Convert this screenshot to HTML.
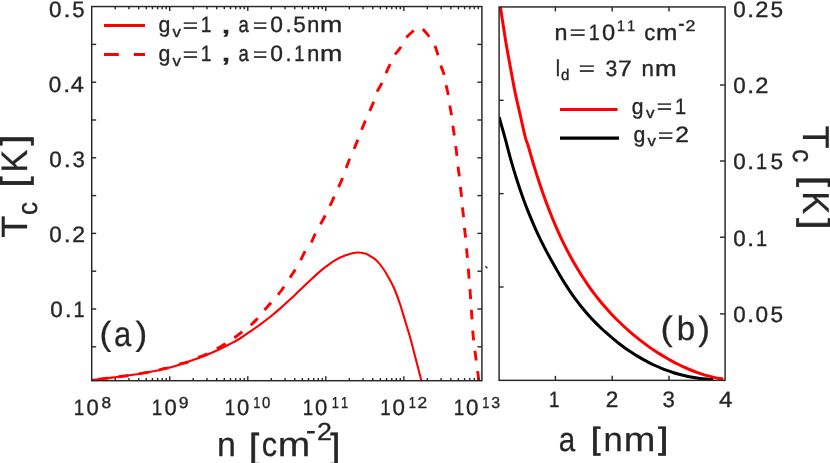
<!DOCTYPE html>
<html><head><meta charset="utf-8"><title>Tc plots</title>
<style>
html,body{margin:0;padding:0;background:#fff;}
body{width:830px;height:463px;overflow:hidden;font-family:"Liberation Sans",sans-serif;}
svg{display:block;}
svg text{font-family:"Liberation Sans",sans-serif;font-kerning:none;white-space:pre;text-rendering:geometricPrecision;}
</style></head><body>
<svg width="830" height="463" viewBox="0 0 830 463">
<rect x="0" y="0" width="830" height="463" fill="#ffffff"/>
<clipPath id="cl"><rect x="91.7" y="6.55" width="390.2" height="374.84999999999997"/></clipPath>
<clipPath id="cr"><rect x="499.1" y="6.95" width="226.0" height="374.1"/></clipPath>
<g clip-path="url(#cl)" fill="none" stroke="#ff0000" stroke-width="2.1" stroke-linejoin="round">
<path d="M91.50,380.10 C93.75,379.83 101.08,378.98 105.00,378.50 C108.92,378.02 111.67,377.62 115.00,377.20 C118.33,376.78 121.67,376.45 125.00,376.00 C128.33,375.55 131.67,375.03 135.00,374.50 C138.33,373.97 141.67,373.38 145.00,372.80 C148.33,372.22 151.67,371.72 155.00,371.00 C158.33,370.28 162.50,369.08 165.00,368.50 C167.50,367.92 167.50,368.17 170.00,367.50 C172.50,366.83 176.67,365.58 180.00,364.50 C183.33,363.42 186.67,362.17 190.00,361.00 C193.33,359.83 196.67,358.75 200.00,357.50 C203.33,356.25 206.67,354.92 210.00,353.50 C213.33,352.08 216.67,350.58 220.00,349.00 C223.33,347.42 226.67,345.75 230.00,344.00 C233.33,342.25 236.67,340.57 240.00,338.50 C243.33,336.43 246.67,333.92 250.00,331.60 C253.33,329.28 256.67,327.03 260.00,324.60 C263.33,322.17 266.67,319.67 270.00,317.00 C273.33,314.33 276.67,311.50 280.00,308.60 C283.33,305.70 286.67,302.70 290.00,299.60 C293.33,296.50 296.67,293.17 300.00,290.00 C303.33,286.83 306.67,283.70 310.00,280.60 C313.33,277.50 317.33,273.73 320.00,271.40 C322.67,269.07 323.50,268.43 326.00,266.60 C328.50,264.77 331.83,262.23 335.00,260.40 C338.17,258.57 341.63,256.88 345.00,255.60 C348.37,254.32 351.88,253.07 355.20,252.70 C358.52,252.33 362.43,252.85 364.90,253.40 C367.37,253.95 368.15,254.90 370.00,256.00 C371.85,257.10 374.00,258.17 376.00,260.00 C378.00,261.83 380.00,264.27 382.00,267.00 C384.00,269.73 386.00,272.90 388.00,276.40 C390.00,279.90 392.00,283.40 394.00,288.00 C396.00,292.60 398.17,298.58 400.00,304.00 C401.83,309.42 403.33,315.00 405.00,320.50 C406.67,326.00 408.33,331.08 410.00,337.00 C411.67,342.92 413.07,348.58 415.00,356.00 C416.93,363.42 420.50,377.25 421.60,381.50"/>
<path d="M418.70,27.60 C418.25,27.78 416.95,28.10 416.00,28.70 C415.05,29.30 414.67,29.65 413.00,31.20 C411.33,32.75 408.08,35.28 406.00,38.00 C403.92,40.72 402.37,44.67 400.50,47.50 C398.63,50.33 396.55,52.18 394.80,55.00 C393.05,57.82 391.53,61.23 390.00,64.40 C388.47,67.57 387.00,70.80 385.60,74.00 C384.20,77.20 383.03,80.60 381.60,83.60 C380.17,86.60 378.33,88.93 377.00,92.00 C375.67,95.07 374.83,98.83 373.60,102.00 C372.37,105.17 370.97,107.90 369.60,111.00 C368.23,114.10 366.77,117.37 365.40,120.60 C364.03,123.83 362.70,127.10 361.40,130.40 C360.10,133.70 358.83,137.30 357.60,140.40 C356.37,143.50 355.33,145.90 354.00,149.00 C352.67,152.10 350.93,155.77 349.60,159.00 C348.27,162.23 347.20,165.17 346.00,168.40 C344.80,171.63 343.63,175.30 342.40,178.40 C341.17,181.50 341.33,181.07 338.60,187.00 C335.87,192.93 329.83,206.33 326.00,214.00 C322.17,221.67 318.10,228.17 315.60,233.00 C313.10,237.83 312.77,239.90 311.00,243.00 C309.23,246.10 306.77,248.67 305.00,251.60 C303.23,254.53 302.07,257.53 300.40,260.60 C298.73,263.67 296.73,267.17 295.00,270.00 C293.27,272.83 292.33,274.10 290.00,277.60 C287.67,281.10 284.00,287.00 281.00,291.00 C278.00,295.00 274.77,298.43 272.00,301.60 C269.23,304.77 266.73,307.30 264.40,310.00 C262.07,312.70 260.23,315.30 258.00,317.80 C255.77,320.30 253.60,322.70 251.00,325.00 C248.40,327.30 245.23,329.43 242.40,331.60 C239.57,333.77 236.73,336.00 234.00,338.00 C231.27,340.00 228.83,341.87 226.00,343.60 C223.17,345.33 220.00,346.73 217.00,348.40 C214.00,350.07 211.00,352.13 208.00,353.60 C205.00,355.07 202.17,355.87 199.00,357.20 C195.83,358.53 192.25,360.43 189.00,361.60 C185.75,362.77 182.67,363.22 179.50,364.20 C176.33,365.18 172.42,366.78 170.00,367.50 C167.58,368.22 167.50,367.92 165.00,368.50 C162.50,369.08 158.33,370.28 155.00,371.00 C151.67,371.72 148.33,372.22 145.00,372.80 C141.67,373.38 138.33,373.97 135.00,374.50 C131.67,375.03 128.33,375.55 125.00,376.00 C121.67,376.45 118.33,376.78 115.00,377.20 C111.67,377.62 108.92,378.02 105.00,378.50 C101.08,378.98 93.75,379.83 91.50,380.10" stroke-width="2.9" stroke-dasharray="9.9 10.7" stroke-dashoffset="14.6"/>
<path d="M418.70,27.60 C419.08,27.67 420.28,27.73 421.00,28.00 C421.72,28.27 421.58,27.70 423.00,29.20 C424.42,30.70 427.50,34.17 429.50,37.00 C431.50,39.83 433.58,43.17 435.00,46.20 C436.42,49.23 437.00,51.90 438.00,55.20 C439.00,58.50 439.93,62.60 441.00,66.00 C442.07,69.40 443.53,72.33 444.40,75.60 C445.27,78.87 445.53,82.27 446.20,85.60 C446.87,88.93 447.80,92.27 448.40,95.60 C449.00,98.93 449.27,102.27 449.80,105.60 C450.33,108.93 451.08,112.20 451.60,115.60 C452.12,119.00 452.43,122.60 452.90,126.00 C453.37,129.40 453.93,132.67 454.40,136.00 C454.87,139.33 455.27,142.60 455.70,146.00 C456.13,149.40 456.60,152.90 457.00,156.40 C457.40,159.90 457.70,163.57 458.10,167.00 C458.50,170.43 459.02,173.67 459.40,177.00 C459.78,180.33 460.03,183.67 460.40,187.00 C460.77,190.33 461.25,193.57 461.60,197.00 C461.95,200.43 462.17,204.17 462.50,207.60 C462.83,211.03 463.27,214.20 463.60,217.60 C463.93,221.00 464.17,224.60 464.50,228.00 C464.83,231.40 465.27,234.67 465.60,238.00 C465.93,241.33 466.17,244.33 466.50,248.00 C466.83,251.67 467.22,255.50 467.60,260.00 C467.98,264.50 468.40,270.00 468.80,275.00 C469.20,280.00 469.57,284.17 470.00,290.00 C470.43,295.83 470.87,302.33 471.40,310.00 C471.93,317.67 472.50,328.33 473.20,336.00 C473.90,343.67 474.80,349.67 475.60,356.00 C476.40,362.33 477.43,369.67 478.00,374.00 C478.57,378.33 478.83,380.67 479.00,382.00" stroke-width="2.9" stroke-dasharray="9.9 10.65" stroke-dashoffset="15.9"/>
</g>
<g clip-path="url(#cr)" fill="none" stroke-width="3" stroke-linejoin="round">
<path d="M499.20,117.50 C499.25,117.67 498.53,115.11 499.50,118.50 C500.47,121.89 503.08,130.89 505.00,137.87 C506.92,144.85 509.00,153.29 511.00,160.36 C513.00,167.43 515.00,174.03 517.00,180.29 C519.00,186.55 521.00,192.38 523.00,197.95 C525.00,203.51 527.00,208.71 529.00,213.68 C531.00,218.65 533.00,223.31 535.00,227.79 C537.00,232.27 539.00,236.50 541.00,240.59 C543.00,244.68 545.00,248.56 547.00,252.34 C549.00,256.12 551.00,259.73 553.00,263.29 C555.00,266.85 557.00,270.29 559.00,273.68 C561.00,277.07 563.00,280.46 565.00,283.65 C567.00,286.83 569.00,289.88 571.00,292.79 C573.00,295.70 575.00,298.46 577.00,301.12 C579.00,303.78 581.00,306.30 583.00,308.73 C585.00,311.16 587.00,313.47 589.00,315.69 C591.00,317.91 593.00,320.03 595.00,322.08 C597.00,324.13 599.00,326.09 601.00,327.99 C603.00,329.89 605.00,331.72 607.00,333.49 C609.00,335.26 611.00,336.98 613.00,338.64 C615.00,340.30 617.00,341.89 619.00,343.44 C621.00,344.99 623.00,346.47 625.00,347.91 C627.00,349.35 629.00,350.73 631.00,352.06 C633.00,353.39 635.00,354.66 637.00,355.88 C639.00,357.10 641.00,358.27 643.00,359.39 C645.00,360.51 647.00,361.57 649.00,362.59 C651.00,363.61 653.00,364.57 655.00,365.49 C657.00,366.41 659.00,367.28 661.00,368.10 C663.00,368.92 665.00,369.69 667.00,370.42 C669.00,371.15 671.00,371.83 673.00,372.47 C675.00,373.11 677.00,373.69 679.00,374.24 C681.00,374.79 683.00,375.29 685.00,375.75 C687.00,376.21 689.00,376.63 691.00,377.01 C693.00,377.39 695.00,377.72 697.00,378.01 C699.00,378.30 701.00,378.56 703.00,378.77 C705.00,378.98 707.30,379.17 709.00,379.29 C710.70,379.41 712.50,379.47 713.20,379.50" stroke="#000"/>
<path d="M499.80,3.00 C499.90,3.67 499.80,3.08 500.40,7.00 C501.00,10.92 502.38,20.00 503.40,26.50 C504.42,33.00 505.28,38.92 506.50,46.00 C507.72,53.08 509.28,61.33 510.70,69.00 C512.12,76.67 513.42,84.33 515.00,92.00 C516.58,99.67 518.45,107.33 520.20,115.00 C521.95,122.67 524.20,132.95 525.50,138.00 C526.80,143.05 526.58,140.65 528.00,145.30 C529.42,149.95 532.00,159.34 534.00,165.90 C536.00,172.46 538.00,178.69 540.00,184.66 C542.00,190.63 544.00,196.30 546.00,201.73 C548.00,207.16 550.00,212.30 552.00,217.23 C554.00,222.16 556.00,226.83 558.00,231.31 C560.00,235.79 562.00,240.02 564.00,244.09 C566.00,248.16 568.00,252.01 570.00,255.72 C572.00,259.43 574.00,262.94 576.00,266.33 C578.00,269.72 580.00,272.94 582.00,276.06 C584.00,279.18 586.00,282.15 588.00,285.03 C590.00,287.91 592.00,290.66 594.00,293.32 C596.00,295.98 598.00,298.53 600.00,300.99 C602.00,303.45 604.00,305.80 606.00,308.08 C608.00,310.36 610.00,312.55 612.00,314.67 C614.00,316.79 616.00,318.82 618.00,320.79 C620.00,322.76 622.00,324.67 624.00,326.52 C626.00,328.37 628.00,330.15 630.00,331.89 C632.00,333.63 634.00,335.31 636.00,336.94 C638.00,338.57 640.00,340.14 642.00,341.67 C644.00,343.20 646.00,344.67 648.00,346.10 C650.00,347.53 652.00,348.90 654.00,350.24 C656.00,351.58 658.00,352.87 660.00,354.12 C662.00,355.37 664.00,356.58 666.00,357.75 C668.00,358.92 670.00,360.05 672.00,361.13 C674.00,362.21 676.00,363.26 678.00,364.26 C680.00,365.26 682.00,366.22 684.00,367.14 C686.00,368.06 688.00,368.93 690.00,369.75 C692.00,370.57 694.00,371.36 696.00,372.09 C698.00,372.82 700.00,373.51 702.00,374.15 C704.00,374.79 706.00,375.38 708.00,375.92 C710.00,376.46 712.00,376.95 714.00,377.39 C716.00,377.83 718.43,378.26 720.00,378.55 C721.57,378.84 722.83,379.01 723.40,379.10" stroke="#ff0000"/>
</g>
<g fill="none" stroke="#262626" stroke-width="1.45">
<rect x="91.7" y="6.55" width="390.20" height="374.15"/>
<rect x="499.1" y="6.95" width="226.00" height="373.40"/>
</g>
<g stroke="#262626" stroke-width="1.4">
<line x1="115.19" y1="380.70" x2="115.19" y2="378.00"/>
<line x1="115.19" y1="6.55" x2="115.19" y2="9.25"/>
<line x1="128.93" y1="380.70" x2="128.93" y2="378.00"/>
<line x1="128.93" y1="6.55" x2="128.93" y2="9.25"/>
<line x1="138.68" y1="380.70" x2="138.68" y2="378.00"/>
<line x1="138.68" y1="6.55" x2="138.68" y2="9.25"/>
<line x1="146.25" y1="380.70" x2="146.25" y2="378.00"/>
<line x1="146.25" y1="6.55" x2="146.25" y2="9.25"/>
<line x1="152.43" y1="380.70" x2="152.43" y2="378.00"/>
<line x1="152.43" y1="6.55" x2="152.43" y2="9.25"/>
<line x1="157.65" y1="380.70" x2="157.65" y2="378.00"/>
<line x1="157.65" y1="6.55" x2="157.65" y2="9.25"/>
<line x1="162.18" y1="380.70" x2="162.18" y2="378.00"/>
<line x1="162.18" y1="6.55" x2="162.18" y2="9.25"/>
<line x1="166.17" y1="380.70" x2="166.17" y2="378.00"/>
<line x1="166.17" y1="6.55" x2="166.17" y2="9.25"/>
<line x1="169.74" y1="380.70" x2="169.74" y2="376.20"/>
<line x1="169.74" y1="6.55" x2="169.74" y2="11.05"/>
<line x1="193.23" y1="380.70" x2="193.23" y2="378.00"/>
<line x1="193.23" y1="6.55" x2="193.23" y2="9.25"/>
<line x1="206.97" y1="380.70" x2="206.97" y2="378.00"/>
<line x1="206.97" y1="6.55" x2="206.97" y2="9.25"/>
<line x1="216.72" y1="380.70" x2="216.72" y2="378.00"/>
<line x1="216.72" y1="6.55" x2="216.72" y2="9.25"/>
<line x1="224.29" y1="380.70" x2="224.29" y2="378.00"/>
<line x1="224.29" y1="6.55" x2="224.29" y2="9.25"/>
<line x1="230.47" y1="380.70" x2="230.47" y2="378.00"/>
<line x1="230.47" y1="6.55" x2="230.47" y2="9.25"/>
<line x1="235.69" y1="380.70" x2="235.69" y2="378.00"/>
<line x1="235.69" y1="6.55" x2="235.69" y2="9.25"/>
<line x1="240.22" y1="380.70" x2="240.22" y2="378.00"/>
<line x1="240.22" y1="6.55" x2="240.22" y2="9.25"/>
<line x1="244.21" y1="380.70" x2="244.21" y2="378.00"/>
<line x1="244.21" y1="6.55" x2="244.21" y2="9.25"/>
<line x1="247.78" y1="380.70" x2="247.78" y2="376.20"/>
<line x1="247.78" y1="6.55" x2="247.78" y2="11.05"/>
<line x1="271.27" y1="380.70" x2="271.27" y2="378.00"/>
<line x1="271.27" y1="6.55" x2="271.27" y2="9.25"/>
<line x1="285.01" y1="380.70" x2="285.01" y2="378.00"/>
<line x1="285.01" y1="6.55" x2="285.01" y2="9.25"/>
<line x1="294.76" y1="380.70" x2="294.76" y2="378.00"/>
<line x1="294.76" y1="6.55" x2="294.76" y2="9.25"/>
<line x1="302.33" y1="380.70" x2="302.33" y2="378.00"/>
<line x1="302.33" y1="6.55" x2="302.33" y2="9.25"/>
<line x1="308.51" y1="380.70" x2="308.51" y2="378.00"/>
<line x1="308.51" y1="6.55" x2="308.51" y2="9.25"/>
<line x1="313.73" y1="380.70" x2="313.73" y2="378.00"/>
<line x1="313.73" y1="6.55" x2="313.73" y2="9.25"/>
<line x1="318.26" y1="380.70" x2="318.26" y2="378.00"/>
<line x1="318.26" y1="6.55" x2="318.26" y2="9.25"/>
<line x1="322.25" y1="380.70" x2="322.25" y2="378.00"/>
<line x1="322.25" y1="6.55" x2="322.25" y2="9.25"/>
<line x1="325.82" y1="380.70" x2="325.82" y2="376.20"/>
<line x1="325.82" y1="6.55" x2="325.82" y2="11.05"/>
<line x1="349.31" y1="380.70" x2="349.31" y2="378.00"/>
<line x1="349.31" y1="6.55" x2="349.31" y2="9.25"/>
<line x1="363.05" y1="380.70" x2="363.05" y2="378.00"/>
<line x1="363.05" y1="6.55" x2="363.05" y2="9.25"/>
<line x1="372.80" y1="380.70" x2="372.80" y2="378.00"/>
<line x1="372.80" y1="6.55" x2="372.80" y2="9.25"/>
<line x1="380.37" y1="380.70" x2="380.37" y2="378.00"/>
<line x1="380.37" y1="6.55" x2="380.37" y2="9.25"/>
<line x1="386.55" y1="380.70" x2="386.55" y2="378.00"/>
<line x1="386.55" y1="6.55" x2="386.55" y2="9.25"/>
<line x1="391.77" y1="380.70" x2="391.77" y2="378.00"/>
<line x1="391.77" y1="6.55" x2="391.77" y2="9.25"/>
<line x1="396.30" y1="380.70" x2="396.30" y2="378.00"/>
<line x1="396.30" y1="6.55" x2="396.30" y2="9.25"/>
<line x1="400.29" y1="380.70" x2="400.29" y2="378.00"/>
<line x1="400.29" y1="6.55" x2="400.29" y2="9.25"/>
<line x1="403.86" y1="380.70" x2="403.86" y2="376.20"/>
<line x1="403.86" y1="6.55" x2="403.86" y2="11.05"/>
<line x1="427.35" y1="380.70" x2="427.35" y2="378.00"/>
<line x1="427.35" y1="6.55" x2="427.35" y2="9.25"/>
<line x1="441.09" y1="380.70" x2="441.09" y2="378.00"/>
<line x1="441.09" y1="6.55" x2="441.09" y2="9.25"/>
<line x1="450.84" y1="380.70" x2="450.84" y2="378.00"/>
<line x1="450.84" y1="6.55" x2="450.84" y2="9.25"/>
<line x1="458.41" y1="380.70" x2="458.41" y2="378.00"/>
<line x1="458.41" y1="6.55" x2="458.41" y2="9.25"/>
<line x1="464.59" y1="380.70" x2="464.59" y2="378.00"/>
<line x1="464.59" y1="6.55" x2="464.59" y2="9.25"/>
<line x1="469.81" y1="380.70" x2="469.81" y2="378.00"/>
<line x1="469.81" y1="6.55" x2="469.81" y2="9.25"/>
<line x1="474.34" y1="380.70" x2="474.34" y2="378.00"/>
<line x1="474.34" y1="6.55" x2="474.34" y2="9.25"/>
<line x1="478.33" y1="380.70" x2="478.33" y2="378.00"/>
<line x1="478.33" y1="6.55" x2="478.33" y2="9.25"/>
<line x1="91.70" y1="346.80" x2="96.20" y2="346.80"/>
<line x1="481.90" y1="346.80" x2="477.40" y2="346.80"/>
<line x1="91.70" y1="309.00" x2="96.20" y2="309.00"/>
<line x1="481.90" y1="309.00" x2="477.40" y2="309.00"/>
<line x1="91.70" y1="271.20" x2="96.20" y2="271.20"/>
<line x1="481.90" y1="271.20" x2="477.40" y2="271.20"/>
<line x1="91.70" y1="233.40" x2="96.20" y2="233.40"/>
<line x1="481.90" y1="233.40" x2="477.40" y2="233.40"/>
<line x1="91.70" y1="195.60" x2="96.20" y2="195.60"/>
<line x1="481.90" y1="195.60" x2="477.40" y2="195.60"/>
<line x1="91.70" y1="157.80" x2="96.20" y2="157.80"/>
<line x1="481.90" y1="157.80" x2="477.40" y2="157.80"/>
<line x1="91.70" y1="120.00" x2="96.20" y2="120.00"/>
<line x1="481.90" y1="120.00" x2="477.40" y2="120.00"/>
<line x1="91.70" y1="82.20" x2="96.20" y2="82.20"/>
<line x1="481.90" y1="82.20" x2="477.40" y2="82.20"/>
<line x1="91.70" y1="44.40" x2="96.20" y2="44.40"/>
<line x1="481.90" y1="44.40" x2="477.40" y2="44.40"/>
<line x1="555.40" y1="380.35" x2="555.40" y2="375.85"/>
<line x1="555.40" y1="6.95" x2="555.40" y2="11.45"/>
<line x1="612.20" y1="380.35" x2="612.20" y2="375.85"/>
<line x1="612.20" y1="6.95" x2="612.20" y2="11.45"/>
<line x1="669.00" y1="380.35" x2="669.00" y2="375.85"/>
<line x1="669.00" y1="6.95" x2="669.00" y2="11.45"/>
<line x1="725.10" y1="85.00" x2="720.00" y2="85.00"/>
<line x1="725.10" y1="161.00" x2="720.00" y2="161.00"/>
<line x1="725.10" y1="237.20" x2="720.00" y2="237.20"/>
<line x1="725.10" y1="313.90" x2="720.00" y2="313.90"/>
<line x1="499.10" y1="100.30" x2="503.60" y2="100.30"/>
<line x1="499.10" y1="193.65" x2="503.60" y2="193.65"/>
<line x1="499.10" y1="287.00" x2="503.60" y2="287.00"/>
</g>
<line x1="485.4" y1="266.3" x2="487.4" y2="268.2" stroke="#262626" stroke-width="1.4"/>
<line x1="104" y1="25.5" x2="145" y2="25.5" stroke="#ff0000" stroke-width="3"/>
<path d="M104,54.5H118.8M133.8,54.5H145" stroke="#ff0000" stroke-width="3" fill="none"/>
<line x1="560" y1="109.5" x2="617.6" y2="109.5" stroke="#ff0000" stroke-width="3"/>
<line x1="560" y1="138.1" x2="619" y2="138.1" stroke="#000" stroke-width="3.2"/>
<g opacity="0.999">
<text transform="matrix(1.0038 0 0 1 49.08 16.85)" font-size="22.30" fill="#262626" stroke="#262626" stroke-width="0.36">0</text>
<text transform="matrix(1.1303 0 0 1 63.55 16.85)" font-size="22.30" fill="#262626" stroke="#262626" stroke-width="0.36">.</text>
<text transform="matrix(0.9931 0 0 1 72.36 16.85)" font-size="22.30" fill="#262626" stroke="#262626" stroke-width="0.36">5</text>
<text transform="matrix(1.0038 0 0 1 48.78 91.90)" font-size="22.30" fill="#262626" stroke="#262626" stroke-width="0.36">0</text>
<text transform="matrix(1.1303 0 0 1 63.25 91.90)" font-size="22.30" fill="#262626" stroke="#262626" stroke-width="0.36">.</text>
<text transform="matrix(1.0590 0 0 1 70.81 91.90)" font-size="22.30" fill="#262626" stroke="#262626" stroke-width="0.36">4</text>
<text transform="matrix(1.0038 0 0 1 49.28 166.95)" font-size="22.30" fill="#262626" stroke="#262626" stroke-width="0.36">0</text>
<text transform="matrix(1.1303 0 0 1 63.75 166.95)" font-size="22.30" fill="#262626" stroke="#262626" stroke-width="0.36">.</text>
<text transform="matrix(0.9931 0 0 1 72.61 166.95)" font-size="22.30" fill="#262626" stroke="#262626" stroke-width="0.36">3</text>
<text transform="matrix(1.0038 0 0 1 49.28 241.95)" font-size="22.30" fill="#262626" stroke="#262626" stroke-width="0.36">0</text>
<text transform="matrix(1.1303 0 0 1 63.75 241.95)" font-size="22.30" fill="#262626" stroke="#262626" stroke-width="0.36">.</text>
<text transform="matrix(1.0336 0 0 1 72.29 241.95)" font-size="22.30" fill="#262626" stroke="#262626" stroke-width="0.36">2</text>
<text transform="matrix(1.0038 0 0 1 50.28 316.90)" font-size="22.30" fill="#262626" stroke="#262626" stroke-width="0.36">0</text>
<text transform="matrix(1.1303 0 0 1 64.75 316.90)" font-size="22.30" fill="#262626" stroke="#262626" stroke-width="0.36">.</text>
<text transform="matrix(0.8945 0 0 1 73.53 316.90)" font-size="22.30" fill="#262626" stroke="#262626" stroke-width="0.36">1</text>
<text transform="matrix(0.8425 0 0 1 73.82 414.75)" font-size="22.30" fill="#262626" stroke="#262626" stroke-width="0.36">1</text>
<text transform="matrix(0.9850 0 0 1 86.39 414.75)" font-size="22.30" fill="#262626" stroke="#262626" stroke-width="0.36">0</text>
<text transform="matrix(1.0883 0 0 1 101.50 408.35)" font-size="15.86" fill="#262626" stroke="#262626" stroke-width="0.36">8</text>
<text transform="matrix(0.8425 0 0 1 151.82 414.75)" font-size="22.30" fill="#262626" stroke="#262626" stroke-width="0.36">1</text>
<text transform="matrix(0.9850 0 0 1 164.39 414.75)" font-size="22.30" fill="#262626" stroke="#262626" stroke-width="0.36">0</text>
<text transform="matrix(1.1055 0 0 1 178.83 408.35)" font-size="15.86" fill="#262626" stroke="#262626" stroke-width="0.36">9</text>
<text transform="matrix(0.8425 0 0 1 224.82 414.75)" font-size="22.30" fill="#262626" stroke="#262626" stroke-width="0.36">1</text>
<text transform="matrix(0.9850 0 0 1 236.99 414.75)" font-size="22.30" fill="#262626" stroke="#262626" stroke-width="0.36">0</text>
<text transform="matrix(0.8042 0 0 1 253.28 408.35)" font-size="15.86" fill="#262626" stroke="#262626" stroke-width="0.36">1</text>
<text transform="matrix(0.9364 0 0 1 262.07 408.35)" font-size="15.86" fill="#262626" stroke="#262626" stroke-width="0.36">0</text>
<text transform="matrix(0.8425 0 0 1 302.82 414.75)" font-size="22.30" fill="#262626" stroke="#262626" stroke-width="0.36">1</text>
<text transform="matrix(0.9850 0 0 1 314.99 414.75)" font-size="22.30" fill="#262626" stroke="#262626" stroke-width="0.36">0</text>
<text transform="matrix(0.8042 0 0 1 331.68 408.35)" font-size="15.86" fill="#262626" stroke="#262626" stroke-width="0.36">1</text>
<text transform="matrix(0.8042 0 0 1 341.08 408.35)" font-size="15.86" fill="#262626" stroke="#262626" stroke-width="0.36">1</text>
<text transform="matrix(0.8425 0 0 1 380.22 414.75)" font-size="22.30" fill="#262626" stroke="#262626" stroke-width="0.36">1</text>
<text transform="matrix(1.0038 0 0 1 392.38 414.75)" font-size="22.30" fill="#262626" stroke="#262626" stroke-width="0.36">0</text>
<text transform="matrix(0.8042 0 0 1 408.68 408.35)" font-size="15.86" fill="#262626" stroke="#262626" stroke-width="0.36">1</text>
<text transform="matrix(1.0932 0 0 1 417.38 408.35)" font-size="15.86" fill="#262626" stroke="#262626" stroke-width="0.36">2</text>
<text transform="matrix(0.8425 0 0 1 453.82 414.75)" font-size="22.30" fill="#262626" stroke="#262626" stroke-width="0.36">1</text>
<text transform="matrix(1.0038 0 0 1 465.98 414.75)" font-size="22.30" fill="#262626" stroke="#262626" stroke-width="0.36">0</text>
<text transform="matrix(0.8042 0 0 1 482.28 408.35)" font-size="15.86" fill="#262626" stroke="#262626" stroke-width="0.36">1</text>
<text transform="matrix(0.9973 0 0 1 491.25 408.35)" font-size="15.86" fill="#262626" stroke="#262626" stroke-width="0.36">3</text>
<text transform="matrix(0.9977 0 0 1 216.94 456.20)" font-size="34.00" fill="#262626" stroke="#262626" stroke-width="0.25">n</text>
<text transform="matrix(0.9011 0 0 1 261.69 456.20)" font-size="34.00" fill="#262626" stroke="#262626" stroke-width="0.25">c</text>
<text transform="matrix(1.1464 0 0 1 277.71 456.20)" font-size="34.00" fill="#262626" stroke="#262626" stroke-width="0.25">m</text>
<text transform="matrix(1.0233 0 0 1 249.19 457.88)" font-size="34.72" fill="#262626" stroke="#262626" stroke-width="0.70">[</text>
<text transform="matrix(0.9943 0 0 1 330.55 457.88)" font-size="34.72" fill="#262626" stroke="#262626" stroke-width="0.70">]</text>
<text transform="matrix(1.0403 0 0 1 305.83 439.70)" font-size="29.57" fill="#262626" stroke="#262626" stroke-width="0.25">-</text>
<text transform="matrix(1.0871 0 0 1 317.00 439.85)" font-size="24.63" fill="#262626" stroke="#262626" stroke-width="0.36">2</text>
<text transform="matrix(0 -0.9939 1 0 26.80 237.72)" font-size="36.50" fill="#262626" stroke="#262626" stroke-width="0.25">T</text>
<text transform="matrix(0 -0.9387 1 0 37.13 215.02)" font-size="27.95" fill="#262626" stroke="#262626" stroke-width="0.36">c</text>
<text transform="matrix(0 -1.0985 1 0 25.91 187.50)" font-size="36.00" fill="#262626" stroke="#262626" stroke-width="0.70">[</text>
<text transform="matrix(0 -0.9273 1 0 26.80 172.41)" font-size="36.86" fill="#262626" stroke="#262626" stroke-width="0.25">K</text>
<text transform="matrix(0 -1.0566 1 0 25.91 145.58)" font-size="36.00" fill="#262626" stroke="#262626" stroke-width="0.70">]</text>
<text transform="matrix(0.9573 0 0 1 158.45 32.35)" font-size="22.30" fill="#262626" stroke="#262626" stroke-width="0.36">g</text>
<text transform="matrix(1.3372 0 0 1 182.77 31.88)" font-size="19.55" fill="#262626" stroke="#262626" stroke-width="0.36">=</text>
<text transform="matrix(0.8633 0 0 1 200.78 32.35)" font-size="22.30" fill="#262626" stroke="#262626" stroke-width="0.36">1</text>
<text transform="matrix(0.8293 0 0 1 238.46 32.35)" font-size="22.30" fill="#262626" stroke="#262626" stroke-width="0.36">a</text>
<text transform="matrix(1.2529 0 0 1 253.05 31.88)" font-size="19.55" fill="#262626" stroke="#262626" stroke-width="0.36">=</text>
<text transform="matrix(1.0225 0 0 1 270.16 32.35)" font-size="22.30" fill="#262626" stroke="#262626" stroke-width="0.36">0</text>
<text transform="matrix(0.9890 0 0 1 285.44 32.35)" font-size="22.30" fill="#262626" stroke="#262626" stroke-width="0.36">.</text>
<text transform="matrix(1.0120 0 0 1 293.35 32.35)" font-size="22.30" fill="#262626" stroke="#262626" stroke-width="0.36">5</text>
<text transform="matrix(0.9712 0 0 1 307.31 32.35)" font-size="22.30" fill="#262626" stroke="#262626" stroke-width="0.36">n</text>
<text transform="matrix(1.1968 0 0 1 319.98 32.35)" font-size="22.30" fill="#262626" stroke="#262626" stroke-width="0.36">m</text>
<text transform="matrix(1.0929 0 0 1 172.49 36.65)" font-size="15.40" fill="#262626" stroke="#262626" stroke-width="0.36">v</text>
<text transform="matrix(1.5476 0 0 1 220.04 32.51)" font-size="27.72" fill="#262626" stroke="#262626" stroke-width="0.36">,</text>
<text transform="matrix(0.9573 0 0 1 158.45 61.20)" font-size="22.30" fill="#262626" stroke="#262626" stroke-width="0.36">g</text>
<text transform="matrix(1.3372 0 0 1 182.77 60.73)" font-size="19.55" fill="#262626" stroke="#262626" stroke-width="0.36">=</text>
<text transform="matrix(0.8633 0 0 1 200.78 61.20)" font-size="22.30" fill="#262626" stroke="#262626" stroke-width="0.36">1</text>
<text transform="matrix(0.8293 0 0 1 238.46 61.20)" font-size="22.30" fill="#262626" stroke="#262626" stroke-width="0.36">a</text>
<text transform="matrix(1.2529 0 0 1 253.05 60.73)" font-size="19.55" fill="#262626" stroke="#262626" stroke-width="0.36">=</text>
<text transform="matrix(1.0225 0 0 1 270.16 61.20)" font-size="22.30" fill="#262626" stroke="#262626" stroke-width="0.36">0</text>
<text transform="matrix(0.9890 0 0 1 285.44 61.20)" font-size="22.30" fill="#262626" stroke="#262626" stroke-width="0.36">.</text>
<text transform="matrix(0.8217 0 0 1 294.35 61.20)" font-size="22.30" fill="#262626" stroke="#262626" stroke-width="0.36">1</text>
<text transform="matrix(0.9712 0 0 1 307.31 61.20)" font-size="22.30" fill="#262626" stroke="#262626" stroke-width="0.36">n</text>
<text transform="matrix(1.1968 0 0 1 319.98 61.20)" font-size="22.30" fill="#262626" stroke="#262626" stroke-width="0.36">m</text>
<text transform="matrix(1.0929 0 0 1 172.49 65.50)" font-size="15.40" fill="#262626" stroke="#262626" stroke-width="0.36">v</text>
<text transform="matrix(1.5476 0 0 1 220.04 61.36)" font-size="27.72" fill="#262626" stroke="#262626" stroke-width="0.36">,</text>
<text transform="matrix(1.0594 0 0 1 99.49 345.47)" font-size="33.50" fill="#262626" stroke="#262626" stroke-width="0.25">(</text>
<text transform="matrix(0.8833 0 0 1 113.88 345.96)" font-size="35.06" fill="#262626" stroke="#262626" stroke-width="0.25">a</text>
<text transform="matrix(1.0482 0 0 1 135.39 345.47)" font-size="33.50" fill="#262626" stroke="#262626" stroke-width="0.25">)</text>
<text transform="matrix(1.0038 0 0 1 733.18 17.00)" font-size="22.30" fill="#262626" stroke="#262626" stroke-width="0.36">0</text>
<text transform="matrix(1.1774 0 0 1 747.05 17.00)" font-size="22.30" fill="#262626" stroke="#262626" stroke-width="0.36">.</text>
<text transform="matrix(1.0631 0 0 1 755.16 17.00)" font-size="22.30" fill="#262626" stroke="#262626" stroke-width="0.36">2</text>
<text transform="matrix(1.0120 0 0 1 770.45 17.00)" font-size="22.30" fill="#262626" stroke="#262626" stroke-width="0.36">5</text>
<text transform="matrix(1.0038 0 0 1 733.18 93.20)" font-size="22.30" fill="#262626" stroke="#262626" stroke-width="0.36">0</text>
<text transform="matrix(1.1774 0 0 1 747.05 93.20)" font-size="22.30" fill="#262626" stroke="#262626" stroke-width="0.36">.</text>
<text transform="matrix(1.0631 0 0 1 755.16 93.20)" font-size="22.30" fill="#262626" stroke="#262626" stroke-width="0.36">2</text>
<text transform="matrix(1.0038 0 0 1 733.18 169.40)" font-size="22.30" fill="#262626" stroke="#262626" stroke-width="0.36">0</text>
<text transform="matrix(1.1774 0 0 1 747.05 169.40)" font-size="22.30" fill="#262626" stroke="#262626" stroke-width="0.36">.</text>
<text transform="matrix(0.8945 0 0 1 756.03 169.40)" font-size="22.30" fill="#262626" stroke="#262626" stroke-width="0.36">1</text>
<text transform="matrix(1.0120 0 0 1 770.45 169.40)" font-size="22.30" fill="#262626" stroke="#262626" stroke-width="0.36">5</text>
<text transform="matrix(1.0038 0 0 1 733.18 245.60)" font-size="22.30" fill="#262626" stroke="#262626" stroke-width="0.36">0</text>
<text transform="matrix(1.1774 0 0 1 747.05 245.60)" font-size="22.30" fill="#262626" stroke="#262626" stroke-width="0.36">.</text>
<text transform="matrix(0.8945 0 0 1 756.03 245.60)" font-size="22.30" fill="#262626" stroke="#262626" stroke-width="0.36">1</text>
<text transform="matrix(1.0038 0 0 1 733.18 321.80)" font-size="22.30" fill="#262626" stroke="#262626" stroke-width="0.36">0</text>
<text transform="matrix(1.1774 0 0 1 747.05 321.80)" font-size="22.30" fill="#262626" stroke="#262626" stroke-width="0.36">.</text>
<text transform="matrix(1.0131 0 0 1 755.47 321.80)" font-size="22.30" fill="#262626" stroke="#262626" stroke-width="0.36">0</text>
<text transform="matrix(1.0120 0 0 1 770.45 321.80)" font-size="22.30" fill="#262626" stroke="#262626" stroke-width="0.36">5</text>
<text transform="matrix(0.8425 0 0 1 549.02 406.60)" font-size="22.30" fill="#262626" stroke="#262626" stroke-width="0.36">1</text>
<text transform="matrix(1.0139 0 0 1 605.71 406.60)" font-size="22.30" fill="#262626" stroke="#262626" stroke-width="0.36">2</text>
<text transform="matrix(0.9931 0 0 1 662.41 406.60)" font-size="22.30" fill="#262626" stroke="#262626" stroke-width="0.36">3</text>
<text transform="matrix(1.0768 0 0 1 719.10 406.60)" font-size="22.30" fill="#262626" stroke="#262626" stroke-width="0.36">4</text>
<text transform="matrix(0.8709 0 0 1 558.74 450.50)" font-size="34.00" fill="#262626" stroke="#262626" stroke-width="0.25">a</text>
<text transform="matrix(1.0185 0 0 1 603.60 450.50)" font-size="34.00" fill="#262626" stroke="#262626" stroke-width="0.25">n</text>
<text transform="matrix(1.1170 0 0 1 623.87 450.50)" font-size="34.00" fill="#262626" stroke="#262626" stroke-width="0.25">m</text>
<text transform="matrix(1.1102 0 0 1 590.90 449.42)" font-size="30.64" fill="#262626" stroke="#262626" stroke-width="0.70">[</text>
<text transform="matrix(1.1595 0 0 1 658.24 449.42)" font-size="30.64" fill="#262626" stroke="#262626" stroke-width="0.70">]</text>
<text transform="matrix(0 1.0038 -1 0 802.90 125.85)" font-size="37.37" fill="#262626" stroke="#262626" stroke-width="0.25">T</text>
<text transform="matrix(0 0.9553 -1 0 792.87 149.06)" font-size="27.95" fill="#262626" stroke="#262626" stroke-width="0.36">c</text>
<text transform="matrix(0 1.0888 -1 0 803.86 175.90)" font-size="36.33" fill="#262626" stroke="#262626" stroke-width="0.70">[</text>
<text transform="matrix(0 0.9193 -1 0 802.90 191.28)" font-size="37.37" fill="#262626" stroke="#262626" stroke-width="0.25">K</text>
<text transform="matrix(0 1.1026 -1 0 803.86 218.21)" font-size="36.33" fill="#262626" stroke="#262626" stroke-width="0.70">]</text>
<text transform="matrix(1.0451 0 0 1 554.50 39.55)" font-size="22.30" fill="#262626" stroke="#262626" stroke-width="0.36">n</text>
<text transform="matrix(1.3898 0 0 1 569.72 39.08)" font-size="19.55" fill="#262626" stroke="#262626" stroke-width="0.36">=</text>
<text transform="matrix(0.8841 0 0 1 588.75 39.55)" font-size="22.30" fill="#262626" stroke="#262626" stroke-width="0.36">1</text>
<text transform="matrix(1.0600 0 0 1 602.03 39.55)" font-size="22.30" fill="#262626" stroke="#262626" stroke-width="0.36">0</text>
<text transform="matrix(0.9881 0 0 1 644.31 39.55)" font-size="22.30" fill="#262626" stroke="#262626" stroke-width="0.36">c</text>
<text transform="matrix(1.1520 0 0 1 656.04 39.55)" font-size="22.30" fill="#262626" stroke="#262626" stroke-width="0.36">m</text>
<text transform="matrix(0.9338 0 0 1 616.95 30.50)" font-size="15.40" fill="#262626" stroke="#262626" stroke-width="0.36">1</text>
<text transform="matrix(0.9187 0 0 1 627.37 30.50)" font-size="15.40" fill="#262626" stroke="#262626" stroke-width="0.36">1</text>
<text transform="matrix(1.1545 0 0 1 685.56 30.50)" font-size="15.40" fill="#262626" stroke="#262626" stroke-width="0.36">2</text>
<text transform="matrix(0.8150 0 0 1 678.36 31.25)" font-size="23.17" fill="#262626" stroke="#262626" stroke-width="0.36">-</text>
<text transform="matrix(1.4109 0 0 1 578.70 75.28)" font-size="19.55" fill="#262626" stroke="#262626" stroke-width="0.36">=</text>
<text transform="matrix(0.9458 0 0 1 605.45 75.75)" font-size="22.30" fill="#262626" stroke="#262626" stroke-width="0.36">3</text>
<text transform="matrix(1.1147 0 0 1 617.98 75.75)" font-size="22.30" fill="#262626" stroke="#262626" stroke-width="0.36">7</text>
<text transform="matrix(1.0028 0 0 1 641.56 75.75)" font-size="22.30" fill="#262626" stroke="#262626" stroke-width="0.36">n</text>
<text transform="matrix(1.1648 0 0 1 655.03 75.75)" font-size="22.30" fill="#262626" stroke="#262626" stroke-width="0.36">m</text>
<text transform="matrix(0.8494 0 0 1 555.75 75.75)" font-size="22.77" fill="#262626" stroke="#262626" stroke-width="0.36">l</text>
<text transform="matrix(0.9827 0 0 1 561.12 80.20)" font-size="15.39" fill="#262626" stroke="#262626" stroke-width="0.36">d</text>
<text transform="matrix(0.9473 0 0 1 631.86 113.55)" font-size="22.30" fill="#262626" stroke="#262626" stroke-width="0.36">g</text>
<text transform="matrix(1.3477 0 0 1 656.66 113.08)" font-size="19.55" fill="#262626" stroke="#262626" stroke-width="0.36">=</text>
<text transform="matrix(0.8945 0 0 1 674.93 113.55)" font-size="22.30" fill="#262626" stroke="#262626" stroke-width="0.36">1</text>
<text transform="matrix(1.1060 0 0 1 645.89 117.70)" font-size="15.40" fill="#262626" stroke="#262626" stroke-width="0.36">v</text>
<text transform="matrix(0.9573 0 0 1 633.45 142.05)" font-size="22.30" fill="#262626" stroke="#262626" stroke-width="0.36">g</text>
<text transform="matrix(1.3477 0 0 1 657.96 141.58)" font-size="19.55" fill="#262626" stroke="#262626" stroke-width="0.36">=</text>
<text transform="matrix(1.1025 0 0 1 675.21 142.05)" font-size="22.30" fill="#262626" stroke="#262626" stroke-width="0.36">2</text>
<text transform="matrix(1.0929 0 0 1 647.49 146.00)" font-size="15.40" fill="#262626" stroke="#262626" stroke-width="0.36">v</text>
<text transform="matrix(1.0794 0 0 1 660.42 339.78)" font-size="33.93" fill="#262626" stroke="#262626" stroke-width="0.25">(</text>
<text transform="matrix(0.9774 0 0 1 676.66 340.47)" font-size="33.92" fill="#262626" stroke="#262626" stroke-width="0.25">b</text>
<text transform="matrix(1.0349 0 0 1 698.19 339.78)" font-size="33.93" fill="#262626" stroke="#262626" stroke-width="0.25">)</text>
</g>
</svg>
</body></html>
